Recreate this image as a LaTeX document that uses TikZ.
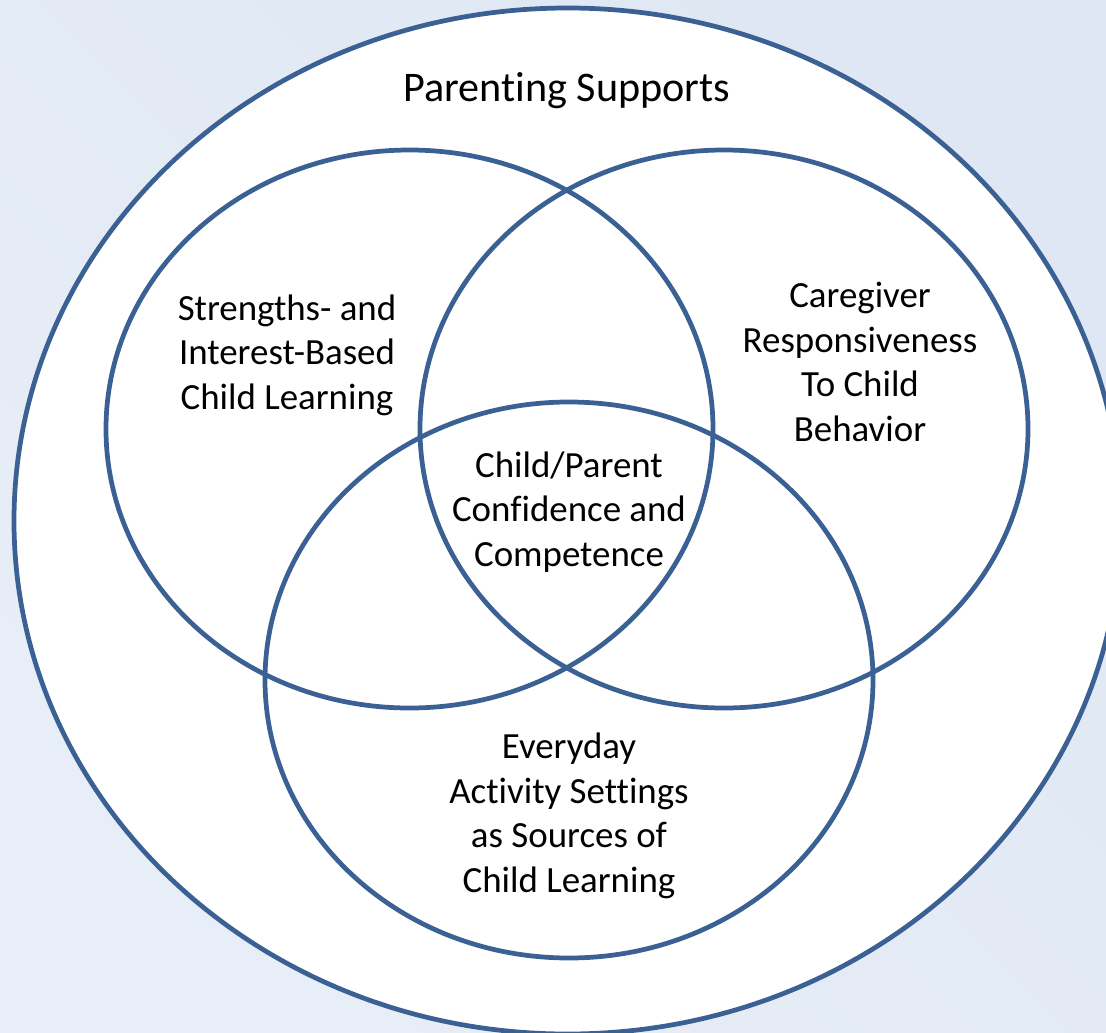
\documentclass[tikz,border=0pt]{standalone}
\usepackage{fontspec}
\setmainfont{Carlito}[RawFeature={-liga;-clig;-calt;-dlig}]
\definecolor{ringblue}{RGB}{59,97,148}
\definecolor{bgtop}{RGB}{232,238,247}
\definecolor{bgbottom}{RGB}{222,231,243}

\begin{document}
\begin{tikzpicture}[x=0.02cm,y=-0.02cm]
  \tikzset{
    ring/.style={draw=ringblue,line width=2.7pt},
    label/.style={align=center,text=black,font=\fontsize{21}{25.3}\selectfont}
  }
  \useasboundingbox (0,0) rectangle (1106,1032);
  % Background
  \shade[top color=bgtop, bottom color=bgbottom, shading angle={135}]
    (0,0) rectangle (1106,1032);

  % Outer ring
  \draw[ring,fill=white] (567.5,521) ellipse [x radius=553.5, y radius=513];
  \node[font=\fontsize{24}{29}\selectfont] (supports) at (567,91) {Parent\kern0pt ing Supports};

  % Three inner rings
  \draw[ring] (409.5,429) ellipse [x radius=303.5, y radius=279];
  \draw[ring] (724,429) ellipse [x radius=304, y radius=279];
  \draw[ring] (569,680) ellipse [x radius=304, y radius=278];

  % Labels
  \node[label] (strengths) at (287,355) {Strengths- and\\Interest-Based\\Child Learning};
  \node[label] (caregiver) at (860,362) {Caregiver\\Responsiveness\\To Child\\Behavior};
  \node[label] (confidence) at (569,512) {Child/Parent\\Confidence and\\Competence};
  \node[label] (everyday) at (569,816) {Everyday\\Activity Sett\kern0pt ings\\as Sources of\\Child Learning};
\end{tikzpicture}
\end{document}
